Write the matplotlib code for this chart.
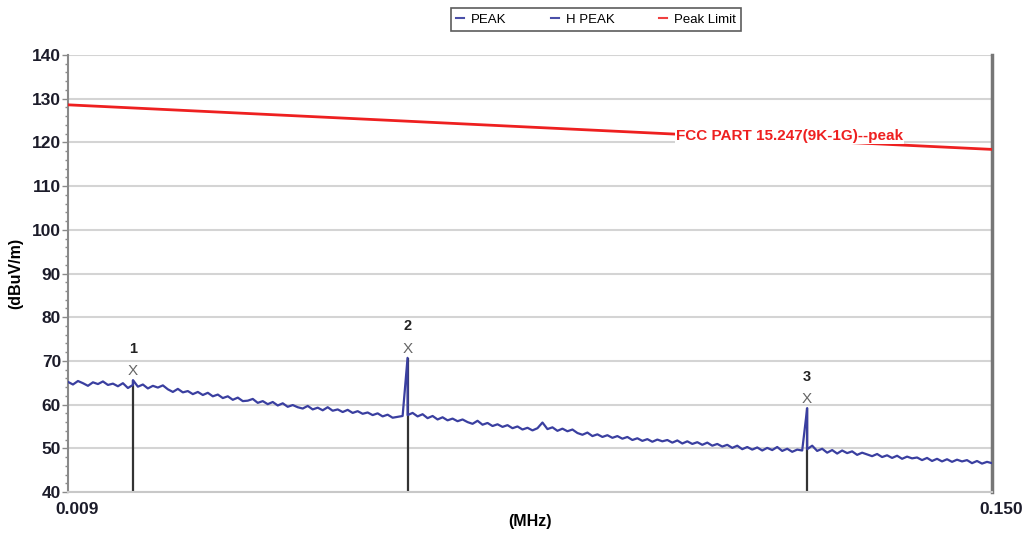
import numpy as np
import matplotlib
matplotlib.use("Agg")
import matplotlib.pyplot as plt
from matplotlib.lines import Line2D
from matplotlib.ticker import MultipleLocator, FixedLocator, NullLocator
from matplotlib.transforms import ScaledTranslation

plt.rcParams['font.family'] = ['Liberation Sans', 'DejaVu Sans']

# sweep range (MHz)
f_start = 0.009
f_stop = 0.150

# PEAK trace (noise floor) (dBuV/m)
peak_trace = [
    65.2, 64.6, 65.4, 64.9, 64.3, 65.1, 64.7, 65.3, 64.5, 64.8,
    64.2, 64.9, 63.8, 64.5, 64.1, 64.6, 63.7, 64.3, 63.9, 64.4,
    63.5, 62.9, 63.6, 62.8, 63.1, 62.4, 62.9, 62.2, 62.7, 61.9,
    62.3, 61.5, 61.9, 61.1, 61.6, 60.8, 60.9, 61.3, 60.4, 60.8,
    60.1, 60.6, 59.8, 60.3, 59.5, 59.9, 59.4, 59.1, 59.7, 58.9,
    59.3, 58.7, 59.4, 58.6, 58.9, 58.3, 58.8, 58.1, 58.5, 57.9,
    58.2, 57.6, 58.0, 57.3, 57.7, 57.0, 57.2, 57.4, 57.6, 58.1,
    57.3, 57.8, 56.9, 57.4, 56.6, 57.1, 56.4, 56.8, 56.2, 56.6,
    56.0, 55.6, 56.3, 55.4, 55.8, 55.1, 55.5, 54.9, 55.3, 54.6,
    55.0, 54.3, 54.7, 54.1, 54.6, 55.9, 54.4, 54.8, 54.0, 54.5,
    53.9, 54.3, 53.5, 53.1, 53.6, 52.8, 53.2, 52.6, 53.0, 52.4,
    52.8, 52.2, 52.6, 51.9, 52.3, 51.7, 52.1, 51.5, 52.0, 51.6,
    51.9, 51.3, 51.8, 51.1, 51.6, 51.0, 51.4, 50.8, 51.3, 50.6,
    51.0, 50.4, 50.8, 50.1, 50.6, 49.8, 50.3, 49.7, 50.2, 49.5,
    50.1, 49.6, 50.3, 49.4, 49.9, 49.2, 49.7, 49.5, 49.8, 50.6,
    49.4, 49.9, 49.0, 49.6, 48.8, 49.5, 48.9, 49.3, 48.5, 49.0,
    48.6, 48.2, 48.7, 48.0, 48.4, 47.8, 48.3, 47.6, 48.1, 47.7,
    47.9, 47.3, 47.8, 47.1, 47.6, 47.0, 47.5, 46.9, 47.4, 47.0,
    47.3, 46.6, 47.1, 46.5, 46.9, 46.6,
]

# limit line end points
limit_f = [f_start, f_stop]
limit_db = [128.6, 118.4]
limit_name = "FCC PART 15.247(9K-1G)--peak"

# markers
marker_ids = ["1", "2", "3"]
marker_f = [0.01097, 0.02531, 0.08545]
marker_db = [65.6, 70.7, 59.2]

# trace samples plus the marker peaks
freqs = np.concatenate([np.geomspace(f_start, f_stop, len(peak_trace)), marker_f])
levels = np.concatenate([peak_trace, marker_db])
order = np.argsort(freqs)
freqs, levels = freqs[order], levels[order]

fig = plt.figure(figsize=(10.33, 5.33), dpi=100)
ax = fig.add_axes([0.0658, 0.0769, 0.8945, 0.8199])

trace_col = '#3a3fa0'
red = '#ee2020'

ax.plot(freqs, levels, color=trace_col, lw=1.6, zorder=3)
ax.plot(limit_f, limit_db, color=red, lw=2.0, zorder=3)

# limit name sits on the line
ax.text(0.0573, 121.4, limit_name, color=red, fontsize=11, fontweight='bold',
        ha='left', va='center', zorder=4,
        bbox=dict(facecolor='white', edgecolor='none', pad=0.5))

for mid, mf, mv in zip(marker_ids, marker_f, marker_db):
    ax.vlines(mf, 40, mv, color='#333333', lw=1.6, zorder=2)
    ax.text(mf, mv + 2.0, 'X', color='#666666', fontsize=11, ha='center',
            va='center', zorder=5)
    ax.text(mf, mv + 7.2, mid, color='#222222', fontsize=10.5, fontweight='bold',
            ha='center', va='center', zorder=5)

ax.set_xscale('log')
ax.set_xlim(f_start, f_stop)
ax.set_ylim(40, 140)
ax.xaxis.set_major_locator(FixedLocator([f_start, f_stop]))
ax.xaxis.set_minor_locator(NullLocator())
ax.set_xticklabels(['0.009', '0.150'])
ax.yaxis.set_major_locator(MultipleLocator(10))
ax.yaxis.set_minor_locator(MultipleLocator(2))

ax.grid(axis='y', which='major', color='#d4d4d4', lw=1.5, zorder=0)
ax.set_axisbelow(True)

ax.spines['top'].set_visible(False)
ax.spines['left'].set_color('#8a8a8a')
ax.spines['left'].set_linewidth(1.5)
ax.spines['bottom'].set_color('#c8c8c8')
ax.spines['bottom'].set_linewidth(1.5)
ax.spines['right'].set_color('#777777')
ax.spines['right'].set_linewidth(2.5)

ax.tick_params(axis='y', which='major', length=4, width=1, color='#8a8a8a',
               labelsize=12.5, pad=1)
ax.tick_params(axis='y', which='minor', length=2.5, width=1, color='#8a8a8a')
ax.tick_params(axis='x', length=0, labelsize=12.5, pad=7)
shift = ScaledTranslation(9 / 100, 0, fig.dpi_scale_trans)
for lab in ax.get_xticklabels():
    lab.set_transform(lab.get_transform() + shift)
for lab in ax.get_yticklabels() + ax.get_xticklabels():
    lab.set_fontweight('bold')
    lab.set_color('#1c1c2a')

ax.set_xlabel('(MHz)', fontsize=11.5, fontweight='bold', labelpad=-2)
ax.set_ylabel('(dBuV/m)', fontsize=11.5, fontweight='bold', labelpad=6)

handles = [
    Line2D([], [], color='#4a4fa8', lw=1.5),
    Line2D([], [], color='#4a4fa8', lw=1.5),
    Line2D([], [], color='#f04040', lw=1.5),
]
leg = fig.legend(handles, ['PEAK', 'H PEAK', 'Peak Limit'], loc='upper center',
                 bbox_to_anchor=(0.577, 0.997), ncol=3, fontsize=9.5,
                 handlelength=0.6, handletextpad=0.5, columnspacing=3.4,
                 fancybox=False, edgecolor='#333333', borderpad=0.4)
leg.get_frame().set_linewidth(1.2)

fig.savefig('out.png', dpi=100)
